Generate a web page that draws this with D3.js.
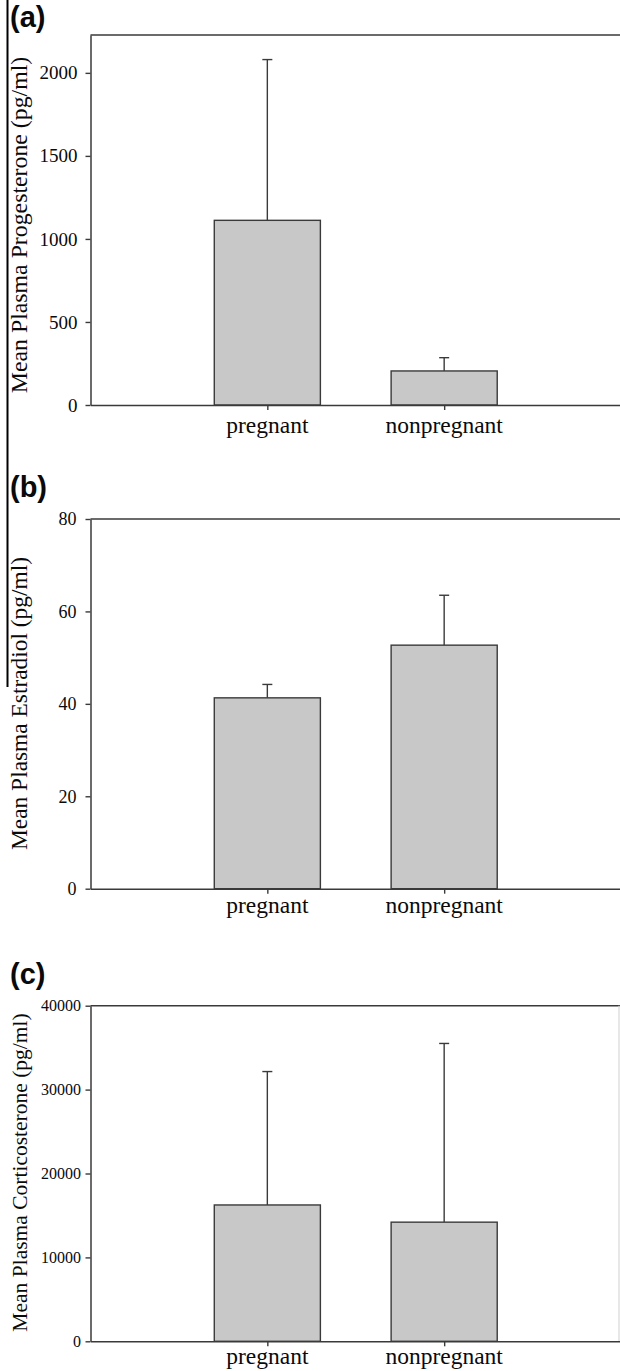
<!DOCTYPE html>
<html>
<head>
<meta charset="utf-8">
<script src="https://cdn.jsdelivr.net/npm/d3@7"></script>
<style>
  html, body { margin: 0; padding: 0; background: #fff; }
  svg { display: block; }
</style>
</head>
<body>
<svg id="chart" width="620" height="1371"></svg>
<script>
// ---- data ----
const categories = ["pregnant", "nonpregnant"];

const progesteroneMean = [1112, 205];
const progesteroneSE   = [968, 80];
const progesteroneTicks = [0, 500, 1000, 1500, 2000];

const estradiolMean = [41.3, 52.7];
const estradiolSE   = [2.9, 10.8];
const estradiolTicks = [0, 20, 40, 60, 80];

const corticosteroneMean = [16250, 14200];
const corticosteroneSE   = [15900, 21300];
const corticosteroneTicks = [0, 10000, 20000, 30000, 40000];

const panelLabels = ["(a)", "(b)", "(c)"];
const yTitles = [
  "Mean Plasma Progesterone (pg/ml)",
  "Mean Plasma Estradiol (pg/ml)",
  "Mean Plasma Corticosterone (pg/ml)"
];

// ---- layout ----
const svg = d3.select("#chart");
const plotLeft = 90.5, plotRight = 621;
const serif = "'Liberation Serif', 'Times New Roman', serif";
const sans = "'Liberation Sans', Arial, sans-serif";
const axisColor = "#3a3a3a";
const textColor = "#0a0a0a";

const panels = [
  { mean: progesteroneMean, se: progesteroneSE, ticks: progesteroneTicks, max: 2228,
    top: 35, bottom: 405, labelY: 27, titleY: 225, titleSize: 23.8,
    catOffset: 27.5, tickSize: 19, tickPad: 8, rightEdge: false },
  { mean: estradiolMean, se: estradiolSE, ticks: estradiolTicks, max: 80,
    top: 519, bottom: 888.7, labelY: 497, titleY: 703.5, titleSize: 23.4,
    catOffset: 24.5, tickSize: 18, tickPad: 9, rightEdge: false },
  { mean: corticosteroneMean, se: corticosteroneSE, ticks: corticosteroneTicks, max: 40000,
    top: 1005.7, bottom: 1341.3, labelY: 984, titleY: 1172.5, titleSize: 21.5,
    catOffset: 22.5, tickSize: 16, tickPad: 4.5, rightEdge: true }
];

// left page border line
svg.append("line")
  .attr("x1", 7.5).attr("x2", 7.5).attr("y1", 0).attr("y2", 687)
  .attr("stroke", "#000").attr("stroke-width", 2);

const x = d3.scalePoint().domain(categories).range([plotLeft, plotRight]).padding(1);
const barW = x.step() * 0.6;

panels.forEach((p, i) => {
  const g = svg.append("g");
  const y = d3.scaleLinear().domain([0, p.max]).range([p.bottom, p.top]);

  // panel label
  g.append("text")
    .attr("x", 10).attr("y", p.labelY)
    .attr("font-family", sans).attr("font-weight", "bold")
    .attr("font-size", 29).attr("fill", textColor)
    .text(panelLabels[i]);

  // top frame line
  g.append("line")
    .attr("x1", plotLeft).attr("x2", plotRight)
    .attr("y1", p.top).attr("y2", p.top)
    .attr("stroke", axisColor).attr("stroke-width", 1.5);

  if (p.rightEdge) {
    g.append("line")
      .attr("x1", 619).attr("x2", 619)
      .attr("y1", p.top).attr("y2", p.bottom)
      .attr("stroke", "#d8d8d8").attr("stroke-width", 1.2);
  }

  const data = categories.map((c, j) => ({ c, m: p.mean[j], se: p.se[j] }));
  // error bars (upper only)
  g.selectAll(".err").data(data).enter().append("line")
    .attr("x1", d => x(d.c)).attr("x2", d => x(d.c))
    .attr("y1", d => y(d.m)).attr("y2", d => y(d.m + d.se))
    .attr("stroke", axisColor).attr("stroke-width", 1.4);
  g.selectAll(".cap").data(data).enter().append("line")
    .attr("x1", d => x(d.c) - 5).attr("x2", d => x(d.c) + 5)
    .attr("y1", d => y(d.m + d.se)).attr("y2", d => y(d.m + d.se))
    .attr("stroke", axisColor).attr("stroke-width", 1.4);

  // bars
  g.selectAll(".bar").data(data).enter().append("rect")
    .attr("x", d => x(d.c) - barW / 2)
    .attr("width", barW)
    .attr("y", d => y(d.m))
    .attr("height", d => y(0) - y(d.m))
    .attr("fill", "#c8c8c8")
    .attr("stroke", axisColor).attr("stroke-width", 1.4);

  // y axis
  const ya = g.append("g").attr("transform", `translate(${plotLeft},0)`)
    .call(d3.axisLeft(y).tickValues(p.ticks).tickSize(5).tickSizeOuter(0)
      .tickPadding(p.tickPad).tickFormat(d3.format("d")));
  ya.select(".domain").attr("stroke", axisColor).attr("stroke-width", 1.5);
  ya.selectAll(".tick line").attr("stroke", axisColor).attr("stroke-width", 1.4);
  ya.selectAll(".tick text").attr("font-family", serif)
    .attr("font-size", p.tickSize).attr("fill", textColor);

  // x axis
  const xa = g.append("g").attr("transform", `translate(0,${p.bottom})`)
    .call(d3.axisBottom(x).tickSize(5).tickSizeOuter(0).tickFormat(""));
  xa.select(".domain").attr("stroke", axisColor).attr("stroke-width", 1.5);
  xa.selectAll(".tick line").attr("stroke", axisColor).attr("stroke-width", 1.4);

  // category labels
  g.selectAll(".cat").data(categories).enter().append("text")
    .attr("x", d => x(d)).attr("y", p.bottom + p.catOffset)
    .attr("text-anchor", "middle")
    .attr("font-family", serif).attr("font-size", 23.5).attr("fill", textColor)
    .text(d => d);

  // y title
  g.append("text")
    .attr("transform", `translate(27,${p.titleY}) rotate(-90)`)
    .attr("text-anchor", "middle")
    .attr("font-family", serif).attr("font-size", p.titleSize).attr("fill", textColor)
    .text(yTitles[i]);
});
</script>
</body>
</html>
